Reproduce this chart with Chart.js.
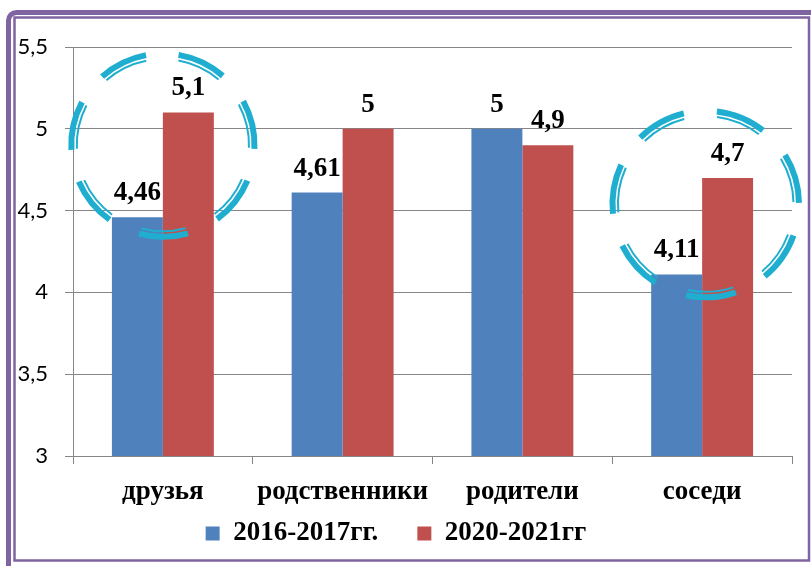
<!DOCTYPE html>
<html>
<head>
<meta charset="utf-8">
<script src="https://cdn.jsdelivr.net/npm/chart.js@4"></script>
<style>
  html, body { margin: 0; padding: 0; background: #fff; }
  #wrap { position: absolute; left: 0; top: 0; width: 811px; height: 566px; }
</style>
</head>
<body>
<div id="wrap"><canvas id="barChart" width="811" height="566"></canvas></div>
<script>
// data
var categories = ["друзья", "родственники", "родители", "соседи"];
var series2016 = [4.46, 4.61, 5, 4.11];
var series2020 = [5.1, 5, 4.9, 4.7];
var seriesNames = ["2016-2017гг.", "2020-2021гг"];
var yTicks = [3, 3.5, 4, 4.5, 5, 5.5];

// dashed circles drawn over the chart (category index, y value, radius in y units)
var highlights = [
  { cat: 0, y: 4.9, r: 0.56, turn: 0 },
  { cat: 3.02, y: 4.54, r: 0.57, turn: -3 }
];

function comma(v) { return String(v).replace('.', ','); }

var serifBold = { family: '"Liberation Serif", "Times New Roman", serif', size: 27, weight: 'bold' };

// purple frame around the whole picture
var frame = {
  id: 'frame',
  beforeDraw: function (chart) {
    var ctx = chart.ctx;
    ctx.save();
    ctx.fillStyle = '#fff';
    ctx.fillRect(0, 0, chart.width, chart.height);
    ctx.strokeStyle = '#8064A2';
    ctx.lineWidth = 5;
    ctx.beginPath();
    ctx.roundRect(8.5, 12.5, 820, 570, 8);
    ctx.stroke();
    ctx.lineWidth = 2.5;
    ctx.beginPath();
    ctx.rect(14.5, 17.5, 794.5, 543);
    ctx.stroke();
    ctx.restore();
  }
};

var circles = {
  id: 'circles',
  afterDatasetsDraw: function (chart) {
    var ctx = chart.ctx, xs = chart.scales.x, ys = chart.scales.y;
    ctx.save();
    ctx.strokeStyle = '#1FAECF';
    ctx.lineCap = 'butt';
    highlights.forEach(function (h) {
      var cx = xs.getPixelForValue(h.cat);
      var cy = ys.getPixelForValue(h.y);
      var R = ys.getPixelForValue(h.y - h.r) - cy;
      for (var k = 0; k < 7; k++) {
        var a0 = (177 + h.turn + k * 360 / 7) * Math.PI / 180;
        var a1 = a0 + 31 * Math.PI / 180;
        ctx.lineWidth = 6;
        ctx.beginPath();
        ctx.arc(cx, cy, R, a0, a1);
        ctx.stroke();
        ctx.lineWidth = 2;
        ctx.beginPath();
        ctx.arc(cx, cy, R - 5.5, a0 + 0.01, a1 - 0.01);
        ctx.stroke();
      }
    });
    ctx.restore();
  }
};

var valueLabels = {
  id: 'valueLabels',
  afterDatasetsDraw: function (chart) {
    var ctx = chart.ctx;
    ctx.save();
    ctx.font = 'bold 27px "Liberation Serif", "Times New Roman", serif';
    ctx.fillStyle = '#000';
    ctx.textAlign = 'center';
    ctx.textBaseline = 'alphabetic';
    chart.data.datasets.forEach(function (ds, i) {
      chart.getDatasetMeta(i).data.forEach(function (bar, j) {
        ctx.fillText(comma(ds.data[j]), bar.x, bar.y - 17);
      });
    });
    ctx.restore();
  }
};

var ctxB = document.getElementById("barChart").getContext('2d');
var myBarChart = new Chart(ctxB, {
  type: 'bar',
  data: {
    labels: categories,
    datasets: [{
      label: seriesNames[0],
      data: series2016,
      backgroundColor: '#4F81BD',
      borderWidth: 0
    },
    {
      label: seriesNames[1],
      data: series2020,
      backgroundColor: '#C0504D',
      borderWidth: 0
    }]
  },
  options: {
    responsive: false,
    animation: false,
    categoryPercentage: 0.567,
    barPercentage: 1,
    layout: { padding: { left: 0, right: 19, top: 47, bottom: 9 } },
    scales: {
      x: {
        grid: { offset: true, drawOnChartArea: false, drawTicks: true, tickLength: 8, color: '#868686' },
        border: { color: '#868686' },
        ticks: { color: '#000', font: serifBold, padding: 12, maxRotation: 0 },
        afterFit: function (s) { s.height = 52; }
      },
      y: {
        min: 3,
        max: 5.5,
        afterBuildTicks: function (s) { s.ticks = yTicks.map(function (v) { return { value: v }; }); },
        grid: { color: '#868686', tickLength: 8 },
        border: { color: '#868686' },
        ticks: {
          color: '#000',
          padding: 17,
          font: { family: 'Lato, "Liberation Sans", sans-serif', size: 22 },
          callback: function (v) { return comma(v); }
        },
        afterFit: function (s) { s.width = 73; }
      }
    },
    plugins: {
      legend: {
        position: 'bottom',
        labels: {
          color: '#000', font: serifBold, boxWidth: 14, boxHeight: 14, padding: 12,
          generateLabels: function (chart) {
            var items = Chart.defaults.plugins.legend.labels.generateLabels(chart);
            items[0].text += '    ';
            return items;
          }
        }
      },
      tooltip: { enabled: false }
    }
  },
  plugins: [frame, circles, valueLabels]
});
</script>
</body>
</html>
